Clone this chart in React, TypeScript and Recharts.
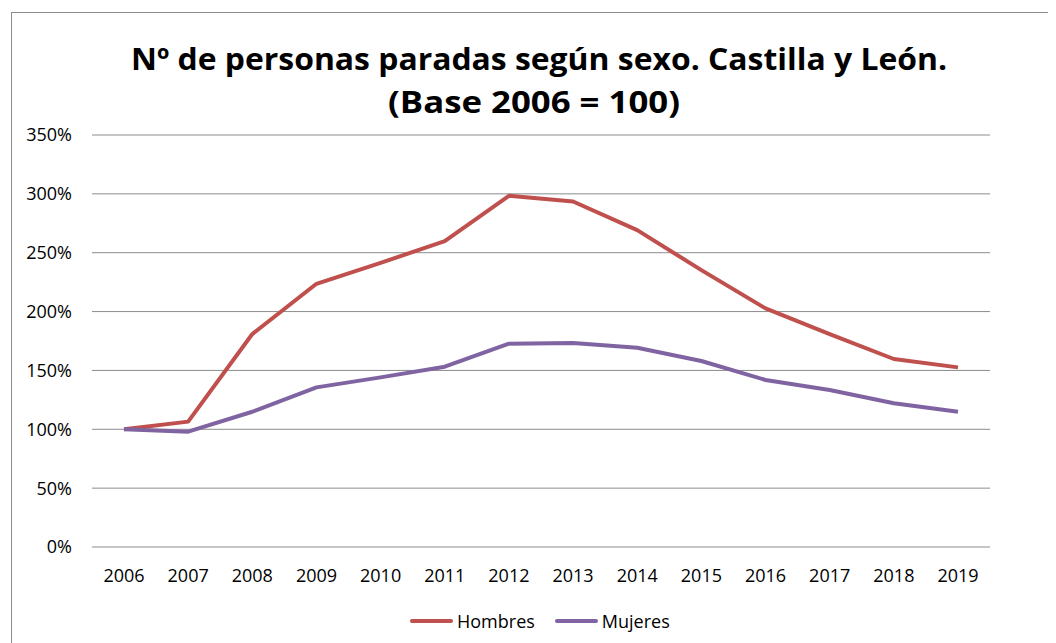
import React from "react";
import { LineChart, Line, XAxis, YAxis, CartesianGrid } from "recharts";

const years = ["2006","2007","2008","2009","2010","2011","2012","2013","2014","2015","2016","2017","2018","2019"];
const hombres = [100, 106.5, 180.9, 223.6, 241.4, 259.8, 298.3, 293.5, 269.2, 235.2, 202.7, 180.9, 159.7, 152.6];
const mujeres = [100, 98, 114.9, 135.6, 144.1, 153.2, 172.7, 173.3, 169.3, 158, 141.9, 133.4, 122.1, 114.9];
const yTicks = [0, 50, 100, 150, 200, 250, 300, 350];
const titleLines = ["Nº de personas paradas según sexo. Castilla y León.", "(Base 2006 = 100)"];
const seriesNames = ["Hombres", "Mujeres"];
const colors = ["#c0504d", "#8064a2"];

const data = years.map((y, i) => ({ year: y, Hombres: hombres[i], Mujeres: mujeres[i] }));

const FONT = "'Open Sans', sans-serif";

const LegendBox = () => (
  <div style={{ position: "absolute", left: 402, top: 600, display: "flex", alignItems: "center", fontFamily: FONT, fontSize: 18, color: "#000", lineHeight: "26px" }}>
    {seriesNames.map((n, i) => (
      <div key={n} style={{ display: "flex", alignItems: "center", marginRight: i === 0 ? 20 : 0 }}>
        <div style={{ width: 43, height: 4, background: colors[i], borderRadius: 2, marginRight: 4 }} />
        <span>{n}</span>
      </div>
    ))}
  </div>
);

export default function App() {
  return (
    <div style={{ position: "relative", width: 1048, height: 635, overflow: "hidden", background: "#fff" }}>
      <div style={{ position: "absolute", left: 3, top: 4, width: 1200, height: 800, border: "1px solid #8c8c8c", boxSizing: "border-box" }} />
      <svg style={{ position: "absolute", left: 0, top: 0 }} width={1048} height={635}>
        <text x={531} y={62} textAnchor="middle" fontFamily={FONT} fontWeight={700} fontSize={31}
          textLength={816} lengthAdjust="spacingAndGlyphs" fill="#000">{titleLines[0]}</text>
        <text x={526} y={105} textAnchor="middle" fontFamily={FONT} fontWeight={700} fontSize={31}
          textLength={292} lengthAdjust="spacingAndGlyphs" fill="#000">{titleLines[1]}</text>
      </svg>
      <div style={{ position: "absolute", left: 0, top: 0 }}>
        <LineChart width={1048} height={635} data={data} margin={{ top: 127, right: 66, bottom: 66, left: 0 }}>
          <CartesianGrid vertical={false} stroke="#8c8c8c" strokeWidth={1} />
          <XAxis dataKey="year" axisLine={false} tickLine={false} tickSize={0} tickMargin={22} height={30}
            padding={{ left: 32, right: 32 }}
            tick={{ fontFamily: FONT, fontSize: 18, fill: "#000" }} interval={0} />
          <YAxis domain={[0, 350]} ticks={yTicks} width={84} axisLine={false} tickLine={false} tickSize={0} tickMargin={20}
            tickFormatter={(v) => `${v}%`} tick={{ fontFamily: FONT, fontSize: 18, fill: "#000" }} />
          {seriesNames.map((n, i) => (
            <Line key={n} dataKey={n} type="linear" stroke={colors[i]} strokeWidth={4} dot={false}
              isAnimationActive={false} strokeLinejoin="round" />
          ))}
        </LineChart>
      </div>
      <LegendBox />
    </div>
  );
}
